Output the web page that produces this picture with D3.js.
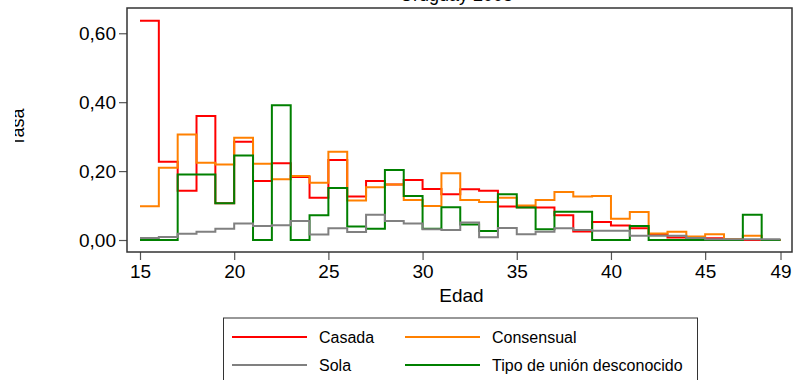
<!DOCTYPE html>
<html><head><meta charset="utf-8">
<script src="https://cdn.jsdelivr.net/npm/d3@7"></script>
<style>
html,body{margin:0;padding:0;background:#fff;}
svg{display:block;font-family:"Liberation Sans",Arial,Helvetica,sans-serif;}
</style></head>
<body><svg id="chart" width="794" height="380"></svg>
<script>
const ages = d3.range(15, 49); // 15..48
const casada = [0.636,0.227,0.143,0.360,0.107,0.285,0.171,0.223,0.183,0.123,0.232,0.126,0.171,0.161,0.174,0.148,0.133,0.147,0.143,0.097,0.095,0.094,0.072,0.025,0.052,0.042,0.034,0.017,0.007,0.005,0.005,0.003,0,0];
const consensual = [0.098,0.210,0.306,0.224,0.219,0.297,0.221,0.176,0.186,0.166,0.256,0.115,0.153,0.161,0.116,0.099,0.194,0.116,0.110,0.123,0.100,0.116,0.139,0.126,0.128,0.062,0.081,0.019,0.024,0.010,0.017,0.003,0.012,0];
const sola = [0.006,0.009,0.018,0.024,0.033,0.048,0.041,0.043,0.055,0.016,0.034,0.023,0.073,0.055,0.048,0.031,0.029,0.051,0.008,0.035,0.017,0.024,0.034,0.029,0.027,0.027,0.012,0.012,0.012,0.006,0.002,0.002,0.002,0.002];
const desconocido = [0,0,0.190,0.190,0.107,0.245,0,0.391,0,0.072,0.151,0.039,0.033,0.203,0.128,0.033,0.095,0.045,0.026,0.133,0.094,0.031,0.082,0.082,0,0,0.041,0,0,0,0,0,0.073,0];
const seriesNames = ["Casada","Consensual","Sola","Tipo de unión desconocido"];
const seriesColors = ["#ff0000","#ff8000","#808080","#008000"];
const xTicks = [15,20,25,30,35,40,45,49];
const yTicks = [0,0.2,0.4,0.6];
const title = "Uruguay 2005";
const xTitle = "Edad";
const yTitle = "Tasa";

const svg = d3.select("#chart");
const L = 127, R = 792, T = 8, B = 252;
const x = d3.scaleLinear().domain([14.31, 49.61]).range([L, R]);
const y = d3.scaleLinear().domain([-0.0348, 0.6733]).range([B, T]);

// title (cut off at top, as in the reference)
svg.append("text").attr("x", (L + R) / 2 - 3).attr("y", 1)
  .attr("text-anchor", "middle").attr("font-size", 18).attr("fill", "#000").text(title);

// y axis title, partially clipped as in the reference
svg.append("clipPath").attr("id", "yclip").append("rect")
  .attr("x", 15).attr("y", 0).attr("width", 40).attr("height", 380);
svg.append("g").attr("clip-path", "url(#yclip)")
  .append("text")
  .attr("transform", "translate(23.5,127.5) rotate(-90)")
  .attr("text-anchor", "middle").attr("font-size", 18).attr("fill", "#000").text(yTitle);

// axes
const yAxis = d3.axisLeft(y).tickValues(yTicks).tickSize(8).tickPadding(3)
  .tickFormat(d => d3.format(".2f")(d).replace(".", ","));
const gy = svg.append("g").attr("transform", `translate(${L},0)`).call(yAxis);
gy.select(".domain").remove();
gy.selectAll(".tick line").attr("stroke", "#555").attr("stroke-width", 1.2);
gy.selectAll(".tick text").attr("font-size", 19).attr("fill", "#000")
  .attr("font-family", "Liberation Sans, Arial, sans-serif");

const xAxis = d3.axisBottom(x).tickValues(xTicks).tickSize(8).tickPadding(5).tickFormat(d3.format("d"));
const gx = svg.append("g").attr("transform", `translate(0,${B})`).call(xAxis);
gx.select(".domain").remove();
gx.selectAll(".tick line").attr("stroke", "#555").attr("stroke-width", 1.2);
gx.selectAll(".tick text").attr("font-size", 19).attr("fill", "#000")
  .attr("font-family", "Liberation Sans, Arial, sans-serif");

svg.append("text").attr("x", 461.5).attr("y", 301.5).attr("text-anchor", "middle")
  .attr("font-size", 19).attr("fill", "#000").text(xTitle);

// series (green drawn over red/orange, gray last)
const data = [casada, consensual, desconocido, sola];
const colorsOrdered = [seriesColors[0], seriesColors[1], seriesColors[3], seriesColors[2]];
const line = d3.line().x(d => x(d[0])).y(d => y(d[1])).curve(d3.curveStepAfter);
data.forEach((vals, i) => {
  const pts = ages.map((a, j) => [a, vals[j]]);
  pts.push([49, vals[vals.length - 1]]);
  svg.append("path").datum(pts).attr("d", line).attr("fill", "none")
    .attr("stroke", colorsOrdered[i]).attr("stroke-width", 2).attr("stroke-linejoin", "miter");
});

// frame
svg.append("rect").attr("x", L).attr("y", T).attr("width", R - L).attr("height", B - T)
  .attr("fill", "none").attr("stroke", "#333").attr("stroke-width", 1.5);

// legend
const lg = svg.append("g");
lg.append("rect").attr("x", 223.5).attr("y", 318).attr("width", 474).attr("height", 100)
  .attr("fill", "#fff").attr("stroke", "#333").attr("stroke-width", 1);
const legPos = [[232, 337], [405, 337], [232, 365], [405, 365]];
seriesNames.forEach((n, i) => {
  const [lx, ly] = legPos[i];
  lg.append("line").attr("x1", lx).attr("x2", lx + 75).attr("y1", ly).attr("y2", ly)
    .attr("stroke", seriesColors[i]).attr("stroke-width", 2);
  lg.append("text").attr("x", lx + 87).attr("y", ly + 6).attr("font-size", 16)
    .attr("fill", "#000").text(n);
});
</script></body></html>
